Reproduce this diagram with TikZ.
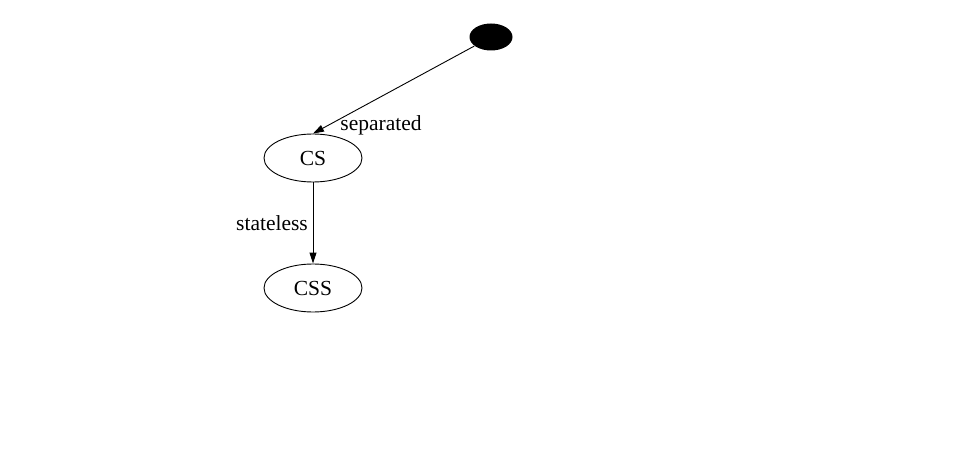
\documentclass[tikz,border=0pt]{standalone}
\usepackage{fontspec}
\setmainfont{Liberation Serif}
\usetikzlibrary{shapes.geometric,arrows.meta,positioning}

\begin{document}
\begin{tikzpicture}[x=1pt, y=-1pt, line width=0.9pt,
    every node/.style={font=\fontsize{21.5}{25}\selectfont},
    state/.style={draw, ellipse, minimum width=98pt, minimum height=48pt, inner sep=0pt},
    edge/.style={-{Triangle[length=11pt,width=7pt]}}]
            \useasboundingbox (0,0) rectangle (961,473);
            % States
            \node[ellipse, fill=black, minimum width=43pt, minimum height=27pt, inner sep=0pt] (start) at (491,37) {};
            \node[state] (cs) at (313,158) {CS};
            \node[state] (css) at (313,288) {CSS};
            
            % Labels
            \node (lblsep) at (381,125) {separated};
            \node (lblstl) at (272,223) {stateless};
            
            \draw[edge] (start) -- (cs.north);
            \draw[edge] (cs) -- (css);
        \end{tikzpicture}
\end{document}
